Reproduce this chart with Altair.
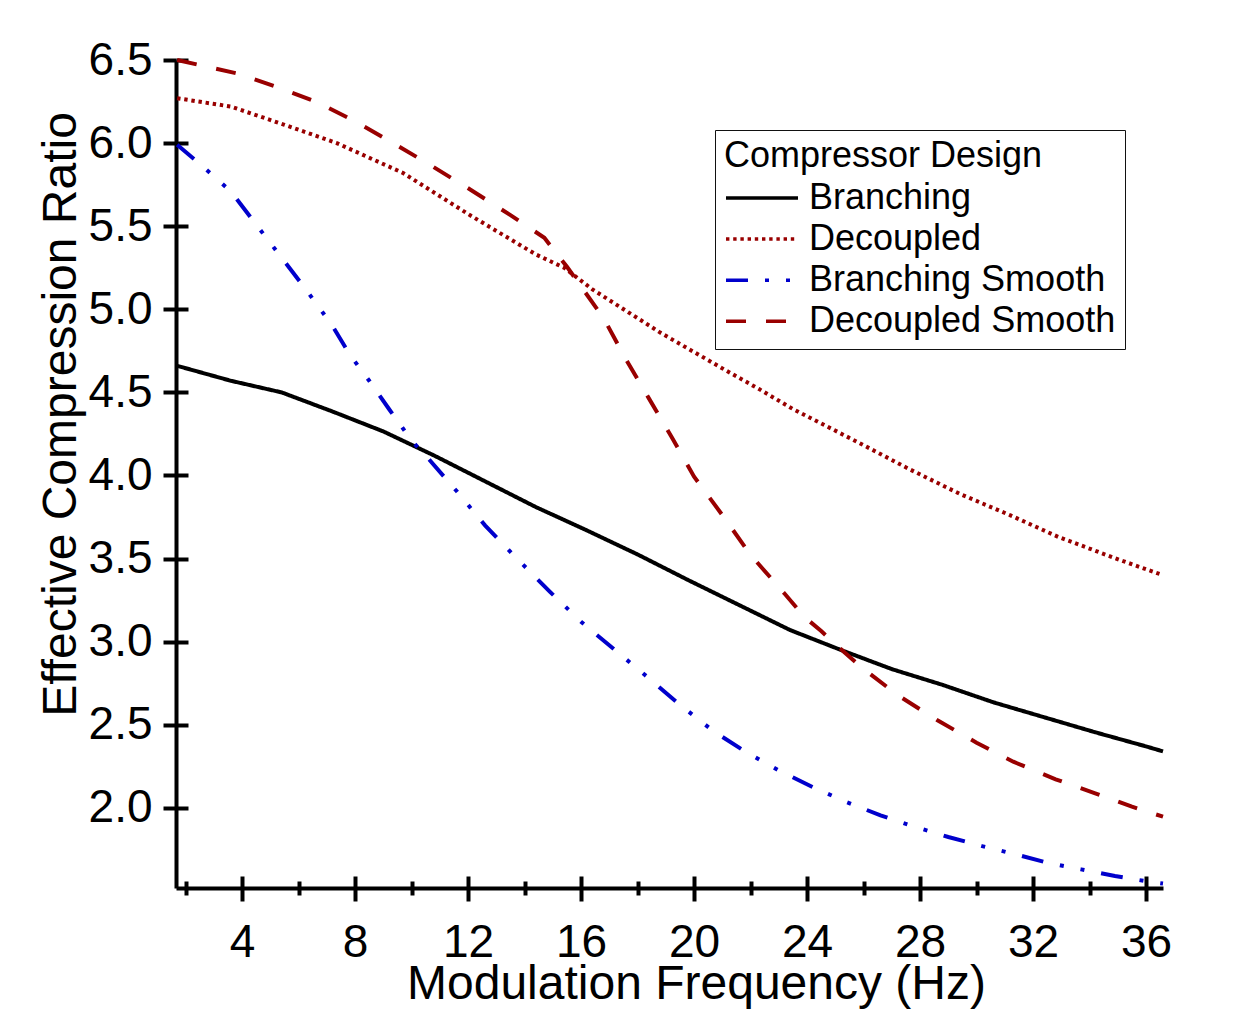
import altair as alt
import pandas as pd

series_names = ["Branching", "Decoupled", "Branching Smooth", "Decoupled Smooth"]
series_colors = ["#000000", "#990000", "#0000cc", "#990000"]
series_dashes = [[1, 0], [3.4, 3.8], [22, 17, 4, 17, 4, 17], [20, 20]]

branching_x = [1.7, 3.6, 5.4, 7.2, 9.0, 10.8, 12.6, 14.4, 16.2, 18.0, 19.8, 21.6, 23.4, 25.2, 27.0, 28.8, 30.6, 32.4, 34.2, 36.0, 36.6]
branching_y = [4.66, 4.57, 4.50, 4.385, 4.265, 4.12, 3.965, 3.81, 3.67, 3.525, 3.37, 3.22, 3.07, 2.95, 2.835, 2.74, 2.635, 2.545, 2.455, 2.37, 2.34]

decoupled_x = [1.7, 3.6, 5.5, 7.35, 9.7, 12.06, 14.4, 15.4, 16.4, 18.8, 21.1, 22.3, 23.5, 25.8, 27.6, 29.4, 31.2, 32.9, 35.1, 36.6]
decoupled_y = [6.27, 6.22, 6.11, 6.0, 5.82, 5.567, 5.33, 5.25, 5.12, 4.86, 4.635, 4.52, 4.40, 4.20, 4.04, 3.89, 3.76, 3.63, 3.49, 3.40]

bsmooth_x = [1.7, 2.4, 3.0, 3.6, 4.5, 5.4, 6.3, 7.2, 7.8, 8.5, 9.2, 10.0, 10.6, 11.6, 12.6, 13.7, 14.9, 16.0, 17.2, 18.4, 19.5, 20.7, 21.8, 23.0, 24.2, 25.4, 26.6, 27.8, 29.0, 30.2, 31.4, 32.5, 33.7, 34.9, 36.1, 36.6]
bsmooth_y = [5.99, 5.89, 5.80, 5.71, 5.51, 5.31, 5.11, 4.90, 4.73, 4.57, 4.40, 4.21, 4.10, 3.905, 3.70, 3.505, 3.30, 3.12, 2.95, 2.78, 2.62, 2.46, 2.34, 2.225, 2.125, 2.035, 1.955, 1.887, 1.825, 1.77, 1.72, 1.67, 1.63, 1.59, 1.556, 1.545]

dsmooth_x = [1.7, 3.8, 5.2, 6.6, 7.9, 9.3, 10.7, 12.1, 13.5, 14.7, 15.5, 16.8, 17.6, 18.4, 19.2, 20.0, 21.0, 22.0, 23.2, 23.9, 24.5, 25.3, 25.9, 27.2, 28.6, 30.0, 31.3, 32.8, 34.2, 35.5, 36.6]
dsmooth_y = [6.50, 6.42, 6.34, 6.25, 6.14, 6.005, 5.864, 5.718, 5.567, 5.43, 5.256, 4.946, 4.695, 4.464, 4.233, 3.993, 3.762, 3.522, 3.29, 3.15, 3.064, 2.94, 2.85, 2.679, 2.529, 2.392, 2.278, 2.172, 2.088, 2.007, 1.947]

x_major = [4, 8, 12, 16, 20, 24, 28, 32, 36]
x_minor = [2, 6, 10, 14, 18, 22, 26, 30, 34]
y_major = [2.0, 2.5, 3.0, 3.5, 4.0, 4.5, 5.0, 5.5, 6.0, 6.5]

rows = []
for name, xs, ys in [
    ("Branching", branching_x, branching_y),
    ("Decoupled", decoupled_x, decoupled_y),
    ("Branching Smooth", bsmooth_x, bsmooth_y),
    ("Decoupled Smooth", dsmooth_x, dsmooth_y),
]:
    for i, (a, b) in enumerate(zip(xs, ys)):
        rows.append({"series": name, "x": a, "y": b, "order": i})
df = pd.DataFrame(rows)

FONT = "Liberation Sans"
xscale = alt.Scale(domain=[1.66, 36.6], nice=False, zero=False)
yscale = alt.Scale(domain=[1.518, 6.5], nice=False, zero=False)

common_axis = dict(grid=False, tickColor="black", domainColor="black", tickWidth=4, domainWidth=4,
                   labelColor="black", titleColor="black")

legend = alt.Legend(
    title="Compressor Design", orient="none", legendX=539, legendY=70,
    padding=9, strokeColor="#111111", fillColor="white",
    titleFont=FONT, labelFont=FONT, titleFontSize=36, labelFontSize=36,
    titleFontWeight="normal", titleColor="black", labelColor="black",
    titleLimit=600, labelLimit=600,
    symbolType="M-1,0H3", symbolSize=1296, symbolStrokeWidth=3.5,
    labelOffset=45, rowPadding=3.1, titlePadding=3,
)

lines = alt.Chart(df).mark_line(strokeWidth=4).encode(
    x=alt.X("x:Q", scale=xscale, axis=alt.Axis(
        values=x_major, tickSize=13, labelFontSize=46, labelFont=FONT, labelPadding=19,
        labelFlush=False, labelOverlap=False, labelBound=False,
        title="Modulation Frequency (Hz)", titleFont=FONT, titleFontSize=48, titleFontWeight="normal",
        titleX=520, titleY=110, titleBaseline="alphabetic", titleAlign="center", **common_axis)),
    y=alt.Y("y:Q", scale=yscale, axis=alt.Axis(
        values=y_major, format=".1f", tickSize=13, labelFontSize=46, labelFont=FONT, labelPadding=11,
        labelFlush=False, labelOverlap=False, labelBound=False,
        title="Effective Compression Ratio", titleFont=FONT, titleFontSize=48, titleFontWeight="normal",
        titleAngle=270, titleX=-101, titleY=354, titleBaseline="alphabetic", titleAlign="center",
        **common_axis)),
    color=alt.Color("series:N", scale=alt.Scale(domain=series_names, range=series_colors), legend=legend),
    strokeDash=alt.StrokeDash("series:N", scale=alt.Scale(domain=series_names, range=series_dashes), legend=legend),
    order="order:Q",
)

inner_major = alt.Chart(df).mark_point(opacity=0).encode(
    x=alt.X("x:Q", scale=xscale, axis=alt.Axis(values=x_major, tickSize=12, offset=-12, domain=False,
                                               labels=False, title=None, orient="bottom", **common_axis)),
    y=alt.Y("y:Q", scale=yscale, axis=alt.Axis(values=y_major, tickSize=12, offset=-12, domain=False,
                                               labels=False, title=None, orient="left", **common_axis)),
)

minor_out = alt.Chart(df).mark_point(opacity=0).encode(
    x=alt.X("x:Q", scale=xscale, axis=alt.Axis(values=x_minor, tickSize=7, domain=False,
                                               labels=False, title=None, orient="bottom", **common_axis)),
    y=alt.Y("y:Q", scale=yscale, axis=None),
)

minor_in = alt.Chart(df).mark_point(opacity=0).encode(
    x=alt.X("x:Q", scale=xscale, axis=alt.Axis(values=x_minor, tickSize=7, offset=-7, domain=False,
                                               labels=False, title=None, orient="bottom", **common_axis)),
    y=alt.Y("y:Q", scale=yscale, axis=None),
)

chart = alt.layer(lines, inner_major, minor_out, minor_in).resolve_axis(
    x="independent", y="independent"
).properties(
    width=987, height=828,
    autosize=alt.AutoSizeParams(type="none"),
    padding={"left": 176, "top": 60, "right": 91, "bottom": 141},
    background="white",
).configure_view(strokeWidth=0, stroke=None)

chart.save("out.html", embed_options={"renderer": "svg", "actions": False})
